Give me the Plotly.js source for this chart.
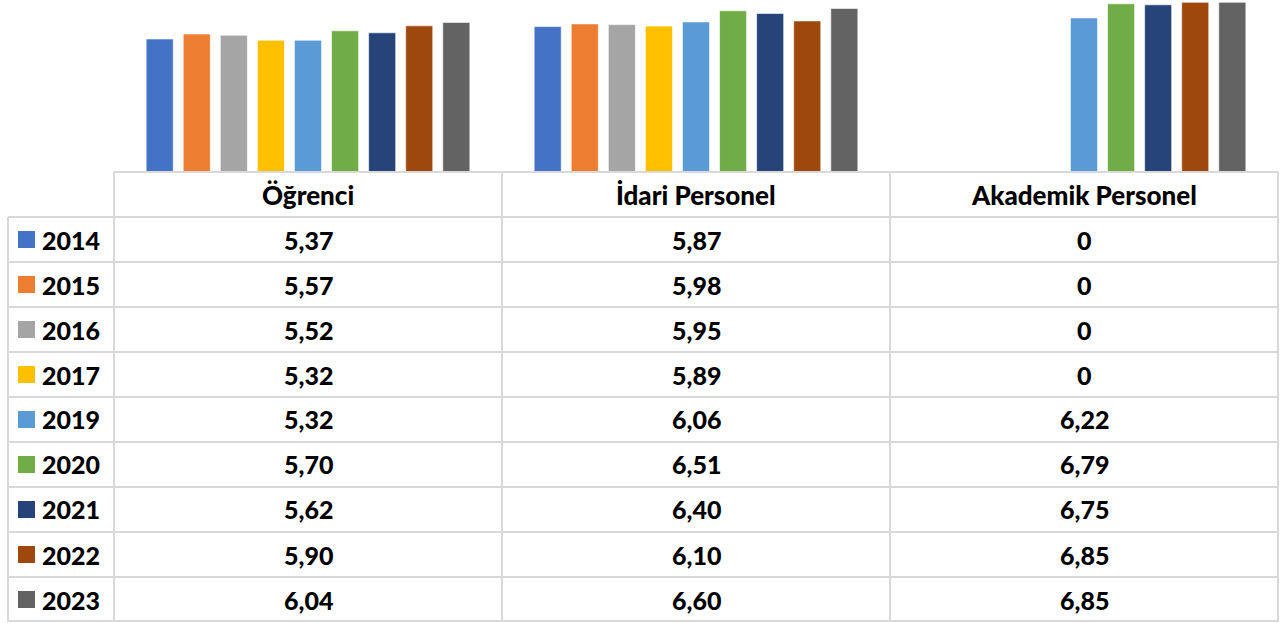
<!DOCTYPE html>
<html><head><meta charset="utf-8">
<script src="https://cdn.plot.ly/plotly-3.0.1.min.js"></script>
<style>html,body{margin:0;padding:0;background:#fff;}#chart{width:1285px;height:623px;}</style>
</head><body><div id="chart"></div>
<script>
const categories = ['Öğrenci', 'İdari Personel', 'Akademik Personel'];
const years = ['2014', '2015', '2016', '2017', '2019', '2020', '2021', '2022', '2023'];
const ogrenci  = [5.37, 5.57, 5.52, 5.32, 5.32, 5.70, 5.62, 5.90, 6.04];
const idari    = [5.87, 5.98, 5.95, 5.89, 6.06, 6.51, 6.40, 6.10, 6.60];
const akademik = [0, 0, 0, 0, 6.22, 6.79, 6.75, 6.85, 6.85];
const colors = ['#4472C4', '#ED7D31', '#A5A5A5', '#FFC000', '#5B9BD5', '#70AD47', '#264478', '#9E480E', '#636363'];

const W = 1285, H = 623;
const L = 114, R = 1278, PT = 0, PB = 172;
const PW = R - L, PH = PB - PT;
const px = x => (x - L) / PW;
const py = y => (PB - y) / PH;
const fmt = v => v === 0 ? '0' : v.toFixed(2).replace('.', ',');

const traces = years.map((yr, i) => ({
  type: 'bar', name: yr, x: categories,
  y: [ogrenci[i], idari[i], akademik[i]],
  marker: {color: colors[i], line: {color: 'rgba(255,255,255,0.6)', width: 1}},
  hoverinfo: 'x+y+name'
}));

const gridColor = '#d9d9d9';
const shapes = [];
const line = (x0, y0, x1, y1) => shapes.push({type: 'line', xref: 'paper', yref: 'paper',
  x0: px(x0), y0: py(y0), x1: px(x1), y1: py(y1), line: {color: gridColor, width: 2}});
const rowTop = 217, rowH = 45, bottom = 622;
const colX = [114, 502, 890, 1278];
line(114, 172, 1278, 172);
for (let r = 0; r <= years.length; r++) {
  const y = Math.min(rowTop + r * rowH, 621);
  line(8, y, 1278, y);
}
line(8, rowTop, 8, bottom);
colX.forEach(x => line(x, 172, x, bottom));

const font = {family: 'Lato, "DejaVu Sans", sans-serif', size: 25, color: '#000', weight: 900};
const hfont = {family: 'Lato, "DejaVu Sans", sans-serif', size: 26, color: '#000', weight: 900};
const annotations = [];
categories.forEach((c, j) => annotations.push({xref: 'x', yref: 'paper', x: c, y: py(195),
  text: c, showarrow: false, font: hfont, xanchor: 'center', yanchor: 'middle'}));
const series = [ogrenci, idari, akademik];
years.forEach((yr, i) => {
  const yc = rowTop + i * rowH + rowH / 2;
  shapes.push({type: 'rect', xref: 'paper', yref: 'paper', x0: px(18), x1: px(35),
    y0: py(yc - 8.5), y1: py(yc + 8.5), fillcolor: colors[i], line: {width: 0}});
  annotations.push({xref: 'paper', yref: 'paper', x: px(40), y: py(yc), text: yr,
    showarrow: false, font: font, xanchor: 'left', yanchor: 'middle'});
  series.forEach((s, j) => annotations.push({xref: 'x', yref: 'paper', x: categories[j], y: py(yc),
    text: fmt(s[i]), showarrow: false, font: font, xanchor: 'center', yanchor: 'middle'}));
});

const layout = {
  width: W, height: H, barmode: 'group', bargap: 0.14, bargroupgap: 0.27,
  margin: {l: L, r: W - R, t: PT, b: H - PB, pad: 0},
  paper_bgcolor: '#fff', plot_bgcolor: '#fff', showlegend: false,
  xaxis: {showticklabels: false, showgrid: false, zeroline: false, showline: false, ticks: ''},
  yaxis: {range: [0, 6.944], showticklabels: false, showgrid: false, zeroline: false, showline: false, ticks: ''},
  shapes: shapes, annotations: annotations
};
Plotly.newPlot('chart', traces, layout, {displayModeBar: false, staticPlot: true});
</script></body></html>
